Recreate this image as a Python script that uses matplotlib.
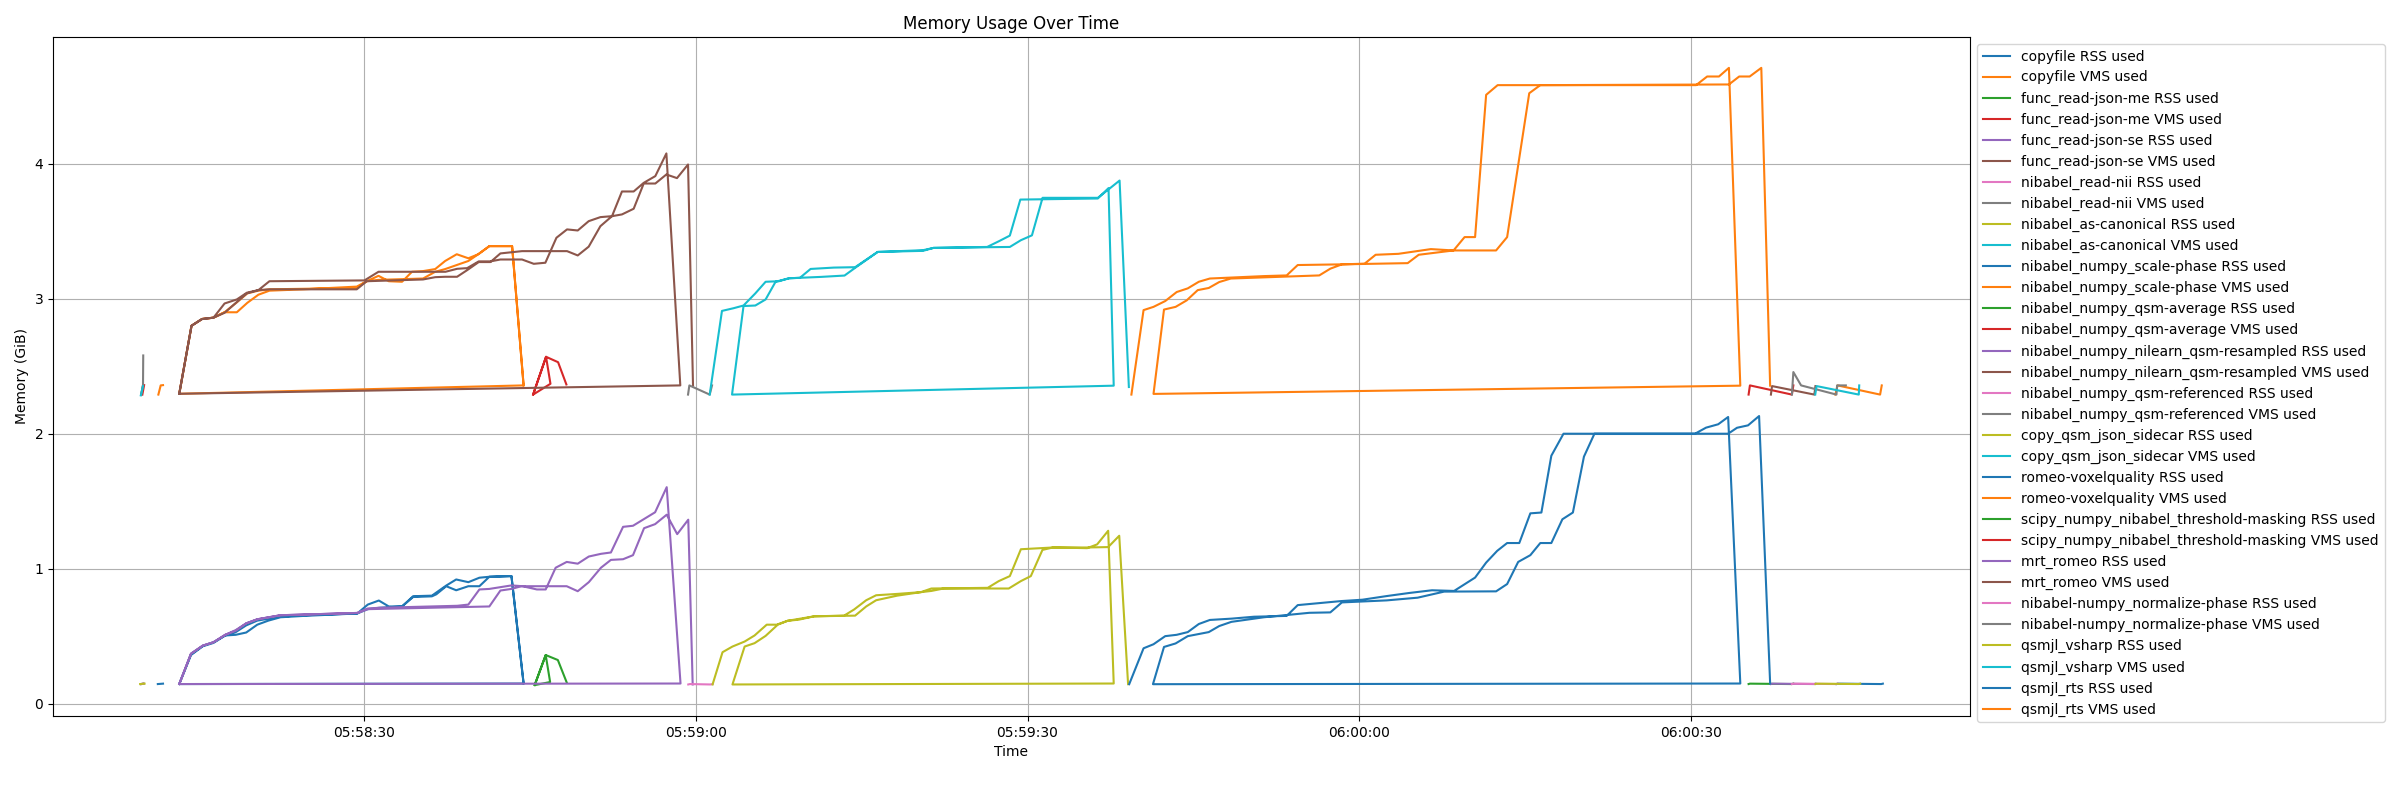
import datetime as dt
import matplotlib
matplotlib.use("Agg")
import matplotlib.pyplot as plt
import matplotlib.dates as mdates

# time values: seconds after 05:58:00 ; memory in GiB
BASE = dt.datetime(2024, 1, 1, 5, 58, 0)

labels = [
    "copyfile RSS used", "copyfile VMS used",
    "func_read-json-me RSS used", "func_read-json-me VMS used",
    "func_read-json-se RSS used", "func_read-json-se VMS used",
    "nibabel_read-nii RSS used", "nibabel_read-nii VMS used",
    "nibabel_as-canonical RSS used", "nibabel_as-canonical VMS used",
    "nibabel_numpy_scale-phase RSS used", "nibabel_numpy_scale-phase VMS used",
    "nibabel_numpy_qsm-average RSS used", "nibabel_numpy_qsm-average VMS used",
    "nibabel_numpy_nilearn_qsm-resampled RSS used", "nibabel_numpy_nilearn_qsm-resampled VMS used",
    "nibabel_numpy_qsm-referenced RSS used", "nibabel_numpy_qsm-referenced VMS used",
    "copy_qsm_json_sidecar RSS used", "copy_qsm_json_sidecar VMS used",
    "romeo-voxelquality RSS used", "romeo-voxelquality VMS used",
    "scipy_numpy_nibabel_threshold-masking RSS used", "scipy_numpy_nibabel_threshold-masking VMS used",
    "mrt_romeo RSS used", "mrt_romeo VMS used",
    "nibabel-numpy_normalize-phase RSS used", "nibabel-numpy_normalize-phase VMS used",
    "qsmjl_vsharp RSS used", "qsmjl_vsharp VMS used",
    "qsmjl_rts RSS used", "qsmjl_rts VMS used",
]

copyfile_rss = [(163.2, 0.145), (163.3, 0.148), (167.25, 0.145), (167.4, 0.148)]
copyfile_vms = [(163.1, 2.29), (163.3, 2.358), (167.15, 2.29), (167.3, 2.358)]
json_me_rss = [(9.8, 0.145), (10.0, 0.148)]
json_me_vms = [(9.9, 2.29), (10.06, 2.36)]
json_se_rss = [(9.8, 0.145), (10.0, 0.148)]
json_se_vms = [(9.8, 2.29), (9.96, 2.36)]
read_nii_rss = [(9.8, 0.145), (10.0, 0.148)]
read_nii_vms = [(9.8, 2.29), (9.96, 2.36), (9.98, 2.58)]
as_canonical_rss = [(9.7, 0.145), (10.1, 0.148)]
as_canonical_vms = [(9.76, 2.284), (9.96, 2.353)]
scale_phase_rss = [(11.3, 0.145), (11.77, 0.148)]
scale_phase_vms = [(11.35, 2.29), (11.56, 2.358), (11.77, 2.36)]
qsm_average_rss = [(155.25, 0.145), (155.37, 0.148), (159.17, 0.145), (159.3, 0.148)]
qsm_average_vms = [(155.25, 2.29), (155.37, 2.358), (159.17, 2.29), (159.3, 2.358)]
qsm_resampled_rss = [(157.27, 0.145), (157.37, 0.148), (161.2, 0.145), (161.3, 0.148)]
qsm_resampled_vms = [(157.27, 2.29), (157.37, 2.353), (161.2, 2.29), (161.3, 2.353)]
qsm_referenced_rss = [(159.17, 0.145), (159.3, 0.148), (163.2, 0.145), (163.3, 0.148)]
qsm_referenced_vms = [(159.17, 2.29), (159.3, 2.457), (160.0, 2.358),
                      (163.2, 2.29), (163.26, 2.358), (164.05, 2.358)]
json_sidecar_rss = [(161.3, 0.145), (161.4, 0.148), (165.2, 0.145), (165.35, 0.148)]
json_sidecar_vms = [(161.28, 2.29), (161.4, 2.353), (165.22, 2.29), (165.26, 2.358)]

voxelquality_rss = [
    (13.24, 0.145), (14.3, 0.366), (15.37, 0.428), (16.34, 0.455), (17.4, 0.505), (18.35, 0.53),
    (19.3, 0.58), (20.3, 0.615), (22.4, 0.645), (24.5, 0.655), (29.35, 0.668), (30.3, 0.734),
    (31.3, 0.764), (32.2, 0.72), (33.4, 0.72), (34.4, 0.796), (36.1, 0.80), (37.4, 0.875),
    (38.3, 0.92), (39.4, 0.90), (40.4, 0.933), (41.3, 0.94), (43.3, 0.945), (44.4, 0.149),
    (13.24, 0.145), (14.3, 0.36), (15.37, 0.425), (16.34, 0.45), (17.4, 0.505), (18.35, 0.51),
    (19.3, 0.527), (20.3, 0.585), (21.3, 0.615), (22.4, 0.64), (24.5, 0.65), (29.35, 0.668),
    (30.3, 0.70), (31.3, 0.71), (33.4, 0.72), (34.4, 0.79), (36.1, 0.795), (36.5, 0.81),
    (37.4, 0.87), (38.3, 0.84), (39.4, 0.87), (40.4, 0.87), (41.3, 0.94), (43.3, 0.945),
    (44.4, 0.149),
]
voxelquality_vms = [
    (13.24, 2.296), (14.35, 2.80), (15.3, 2.85), (16.34, 2.86), (17.34, 2.90), (18.45, 2.90),
    (19.4, 2.97), (20.4, 3.03), (21.4, 3.06), (24.5, 3.07), (29.3, 3.09), (30.2, 3.13),
    (31.27, 3.17), (32.2, 3.13), (33.4, 3.126), (34.3, 3.20), (35.3, 3.205), (36.4, 3.22),
    (37.3, 3.28), (38.35, 3.33), (39.4, 3.30), (40.3, 3.33), (41.3, 3.39), (43.36, 3.39),
    (44.4, 2.358),
    (13.24, 2.296), (14.35, 2.80), (15.3, 2.85), (16.34, 2.86), (17.34, 2.90), (18.4, 2.97),
    (19.4, 3.04), (20.4, 3.06), (21.4, 3.07), (29.3, 3.08), (30.2, 3.13), (31.27, 3.14),
    (35.3, 3.15), (36.4, 3.20), (37.3, 3.22), (38.35, 3.25), (39.4, 3.28), (40.3, 3.33),
    (41.3, 3.39), (43.36, 3.39), (44.4, 2.358),
]
threshold_rss = [(45.4, 0.137), (46.4, 0.36), (46.8, 0.16),
                 (45.4, 0.137), (46.4, 0.36), (47.5, 0.323), (48.3, 0.157)]
threshold_vms = [(45.26, 2.29), (46.43, 2.57), (46.83, 2.37),
                 (45.26, 2.29), (46.43, 2.57), (47.52, 2.53), (48.27, 2.365)]
mrt_romeo_rss = [
    (13.24, 0.145), (14.3, 0.37), (15.37, 0.43), (16.34, 0.455), (17.4, 0.51), (18.35, 0.54),
    (19.3, 0.595), (20.3, 0.625), (22.4, 0.655), (24.5, 0.66), (29.35, 0.672), (30.3, 0.705),
    (31.3, 0.71), (38.4, 0.725), (39.4, 0.734), (40.4, 0.846), (41.3, 0.85), (43.3, 0.876),
    (44.3, 0.87), (45.6, 0.846), (46.4, 0.846), (47.3, 1.007), (48.3, 1.05), (49.3, 1.037),
    (50.3, 1.09), (51.4, 1.11), (52.3, 1.12), (53.4, 1.31), (54.3, 1.318), (55.3, 1.368),
    (56.3, 1.418), (57.35, 1.604), (58.6, 0.149),
    (13.24, 0.145), (14.3, 0.37), (15.37, 0.43), (16.34, 0.455), (17.4, 0.51), (18.35, 0.545),
    (19.3, 0.595), (20.3, 0.625), (22.4, 0.655), (24.5, 0.66), (29.35, 0.672), (30.3, 0.70),
    (41.3, 0.72), (42.3, 0.838), (43.3, 0.85), (44.2, 0.87), (48.3, 0.87), (49.3, 0.833),
    (50.3, 0.90), (51.4, 1.007), (52.3, 1.065), (53.4, 1.07), (54.3, 1.10), (55.3, 1.30),
    (56.3, 1.33), (57.35, 1.40), (58.3, 1.256), (59.3, 1.363), (59.7, 0.142),
]
mrt_romeo_vms = [
    (13.24, 2.296), (14.35, 2.80), (15.3, 2.85), (16.34, 2.86), (17.34, 2.965), (18.45, 2.995),
    (19.36, 3.045), (20.4, 3.064), (21.4, 3.13), (30.0, 3.136), (31.27, 3.20), (37.33, 3.20),
    (38.38, 3.222), (39.29, 3.227), (40.34, 3.277), (41.4, 3.277), (42.3, 3.291), (44.26, 3.291),
    (45.32, 3.259), (46.37, 3.267), (47.37, 3.452), (48.33, 3.514), (49.3, 3.506), (50.29, 3.575),
    (51.35, 3.605), (52.4, 3.612), (53.3, 3.795), (54.36, 3.795), (55.27, 3.859), (56.32, 3.909),
    (57.32, 4.077), (58.58, 2.358),
    (13.24, 2.296), (14.35, 2.80), (15.3, 2.85), (16.34, 2.86), (17.34, 2.896), (18.3, 2.965),
    (19.36, 3.04), (20.4, 3.064), (21.4, 3.07), (29.3, 3.07), (30.2, 3.13), (35.3, 3.143),
    (36.4, 3.16), (37.3, 3.163), (38.38, 3.163), (39.29, 3.212), (40.34, 3.272), (41.4, 3.272),
    (42.3, 3.336), (44.26, 3.353), (48.33, 3.353), (49.3, 3.321), (50.29, 3.386), (51.35, 3.538),
    (52.4, 3.612), (53.3, 3.625), (54.36, 3.667), (55.27, 3.854), (56.32, 3.854), (57.32, 3.921),
    (58.28, 3.894), (59.28, 3.995), (59.73, 2.358),
]
normalize_rss = [(59.3, 0.142), (59.45, 0.145), (61.3, 0.142), (61.5, 0.145)]
normalize_vms = [(59.28, 2.29), (59.4, 2.358), (61.24, 2.29), (61.45, 2.358)]
vsharp_rss = [
    (61.5, 0.142), (62.4, 0.381), (63.3, 0.423), (64.4, 0.46), (65.3, 0.505), (66.4, 0.585),
    (67.3, 0.585), (68.3, 0.614), (69.3, 0.622), (70.7, 0.647), (73.4, 0.652), (74.3, 0.697),
    (75.4, 0.766), (76.3, 0.803), (78.2, 0.813), (80.35, 0.826), (81.3, 0.853), (86.4, 0.858),
    (87.4, 0.908), (88.4, 0.945), (89.4, 1.144), (92.3, 1.157), (95.4, 1.152), (96.3, 1.18),
    (97.3, 1.281), (97.8, 0.149),
    (63.3, 0.142), (64.4, 0.423), (65.3, 0.448), (66.3, 0.502), (67.4, 0.585), (68.3, 0.614),
    (70.7, 0.647), (74.4, 0.652), (75.4, 0.72), (76.3, 0.766), (78.2, 0.80), (80.35, 0.826),
    (81.3, 0.835), (82.4, 0.853), (88.3, 0.853), (89.4, 0.908), (90.3, 0.945), (91.35, 1.139),
    (92.3, 1.157), (95.4, 1.157), (97.3, 1.16), (98.3, 1.244), (99.1, 0.144),
]
vsharp_vms = [
    (61.24, 2.29), (62.35, 2.91), (63.4, 2.93), (64.3, 2.95), (65.37, 3.04), (66.3, 3.126),
    (67.5, 3.13), (68.43, 3.152), (69.4, 3.155), (70.37, 3.221), (72.47, 3.231), (74.4, 3.234),
    (76.44, 3.347), (80.54, 3.36), (81.5, 3.377), (86.35, 3.384), (87.4, 3.426), (88.4, 3.468),
    (89.35, 3.735), (96.36, 3.743), (97.33, 3.82), (97.8, 2.356),
    (63.26, 2.29), (64.3, 2.946), (65.37, 2.95), (66.3, 2.995), (67.2, 3.126), (68.43, 3.152),
    (71.3, 3.162), (73.44, 3.172), (74.4, 3.229), (76.44, 3.347), (80.54, 3.355), (81.5, 3.377),
    (88.4, 3.384), (89.4, 3.434), (90.4, 3.47), (91.36, 3.748), (96.36, 3.748), (97.4, 3.815),
    (98.33, 3.876), (99.17, 2.346),
]
rts_rss = [
    (99.2, 0.144), (100.5, 0.41), (101.4, 0.44), (102.46, 0.50), (103.5, 0.51), (104.5, 0.53),
    (105.5, 0.59), (106.5, 0.62), (108.5, 0.63), (110.5, 0.644), (113.45, 0.65), (114.45, 0.73),
    (118.4, 0.76), (120.3, 0.77), (122.5, 0.797), (124.55, 0.82), (126.6, 0.84), (128.6, 0.835),
    (130.5, 0.934), (131.5, 1.045), (132.5, 1.132), (133.4, 1.19), (134.5, 1.19), (135.5, 1.41),
    (136.5, 1.416), (137.4, 1.837), (138.5, 2.0), (150.4, 2.0), (151.4, 2.045), (152.5, 2.07),
    (153.4, 2.124), (154.5, 0.149),
    (101.35, 0.144), (102.35, 0.42), (103.4, 0.446), (104.5, 0.50), (106.4, 0.53), (107.35, 0.575),
    (108.45, 0.606), (111.4, 0.64), (115.5, 0.673), (117.4, 0.676), (118.45, 0.75), (122.5, 0.765),
    (125.3, 0.785), (127.7, 0.83), (132.4, 0.832), (133.4, 0.886), (134.4, 1.05), (135.5, 1.10),
    (136.4, 1.19), (137.4, 1.19), (138.4, 1.366), (139.35, 1.416), (140.35, 1.83), (141.3, 2.0),
    (153.4, 2.0), (154.2, 2.044), (155.2, 2.062), (156.2, 2.131), (157.2, 0.149),
]
rts_vms = [
    (99.4, 2.29), (100.5, 2.916), (101.4, 2.94), (102.46, 2.983), (103.5, 3.05), (104.5, 3.077),
    (105.5, 3.126), (106.5, 3.15), (111.4, 3.168), (113.45, 3.173), (114.45, 3.25), (118.45, 3.255),
    (120.5, 3.26), (121.5, 3.326), (123.56, 3.333), (126.5, 3.368), (128.55, 3.358), (129.55, 3.457),
    (130.5, 3.457), (131.5, 4.511), (132.54, 4.583), (150.5, 4.583), (151.5, 4.647), (152.57, 4.647),
    (153.47, 4.711), (154.5, 2.356),
    (101.4, 2.295), (102.35, 2.92), (103.4, 2.94), (104.4, 2.988), (105.4, 3.064), (106.4, 3.08),
    (107.35, 3.124), (108.4, 3.15), (116.4, 3.173), (117.4, 3.223), (118.45, 3.255), (124.4, 3.264),
    (125.4, 3.326), (128.55, 3.358), (132.4, 3.358), (133.4, 3.457), (135.4, 4.523), (136.4, 4.583),
    (153.47, 4.588), (154.4, 4.647), (155.35, 4.647), (156.4, 4.711), (157.2, 2.356),
]

series_data = [
    copyfile_rss, copyfile_vms, json_me_rss, json_me_vms, json_se_rss, json_se_vms,
    read_nii_rss, read_nii_vms, as_canonical_rss, as_canonical_vms,
    scale_phase_rss, scale_phase_vms, qsm_average_rss, qsm_average_vms,
    qsm_resampled_rss, qsm_resampled_vms, qsm_referenced_rss, qsm_referenced_vms,
    json_sidecar_rss, json_sidecar_vms, voxelquality_rss, voxelquality_vms,
    threshold_rss, threshold_vms, mrt_romeo_rss, mrt_romeo_vms,
    normalize_rss, normalize_vms, vsharp_rss, vsharp_vms, rts_rss, rts_vms,
]

fig = plt.figure(figsize=(24, 8), dpi=100)
ax = fig.add_axes([53 / 2400, 84 / 800, (1970 - 53) / 2400, (716 - 37) / 800])

for label, pts in zip(labels, series_data):
    times = [BASE + dt.timedelta(seconds=t) for t, _ in pts]
    vals = [v for _, v in pts]
    ax.plot(times, vals, label=label)

ax.xaxis.set_major_locator(mdates.SecondLocator(bysecond=[0, 30]))
ax.xaxis.set_major_formatter(mdates.DateFormatter("%H:%M:%S"))
ax.set_title("Memory Usage Over Time")
ax.set_xlabel("Time")
ax.set_ylabel("Memory (GiB)")
ax.grid(True)
ax.legend(loc="upper left", bbox_to_anchor=(1, 1))

fig.savefig("out.png", dpi=100)
